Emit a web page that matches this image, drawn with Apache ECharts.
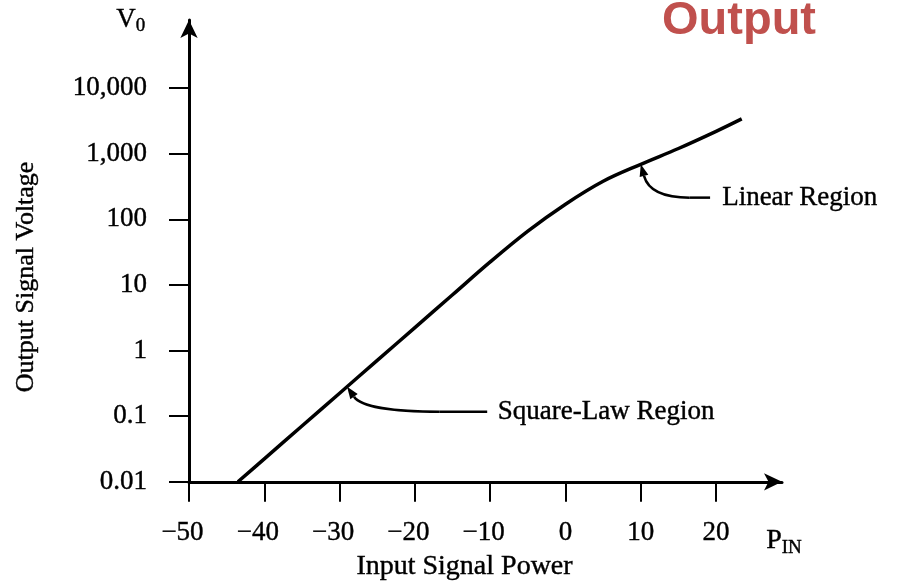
<!DOCTYPE html>
<html><head><meta charset="utf-8">
<script src="https://cdn.jsdelivr.net/npm/echarts@6/dist/echarts.min.js"></script>
<style>html,body{margin:0;padding:0;background:#fff}#c{width:899px;height:586px}</style>
</head><body><div id="c"></div>
<script>
// ---- data ----
const inputPower    = [-43.5, -40, -35, -30, -25, -20, -15, -10, -5, 0, 5, 10, 15, 20, 23.4];
const outputVoltage = [0.01, 0.0224, 0.0708, 0.224, 0.708, 2.24, 7.08, 22.4, 66, 170, 380, 690, 1200, 2190, 3390];
const xTicks = [-50, -40, -30, -20, -10, 0, 10, 20];
const yTicks = [0.01, 0.1, 1, 10, 100, 1000, 10000];
const yTickLabels = ['0.01', '0.1', '1', '10', '100', '1,000', '10,000'];
const annotationTexts   = ['Square-Law Region', 'Linear Region'];
const annotationAnchorX = [-29, 10];
const annotationAnchorY = [0.28, 690];
const annotationElbowX  = [-16.7, 16.5];
const annotationLineEndX = [-10.4, 19.2];
const annotationTextX   = [-9, 20.8];
const annotationY       = [0.117, 214];

const serif = "'Liberation Serif', 'Times New Roman', serif";
const FS = 27;
const ink = {textBorderColor: '#000', textBorderWidth: 0.4};
const gInk = {stroke: '#000', lineWidth: 0.4};

const curve = inputPower.map((x, i) => [x, outputVoltage[i]]);
const annData = annotationTexts.map((t, i) => [annotationAnchorX[i], annotationAnchorY[i], annotationElbowX[i], annotationLineEndX[i], annotationTextX[i], annotationY[i]]);

function yLabel(v) {
  for (let i = 0; i < yTicks.length; i++) {
    if (Math.abs(Math.log10(v) - Math.log10(yTicks[i])) < 1e-6) return yTickLabels[i];
  }
  return '';
}

const chart = echarts.init(document.getElementById('c'), null, {renderer: 'canvas'});
chart.setOption({
  animation: false,
  backgroundColor: '#fff',
  title: {
    text: 'Output', left: 657, top: -7,
    textStyle: {color: '#C0504D', fontSize: 47, fontWeight: 'bold', fontFamily: "'Liberation Sans', Arial, sans-serif"}
  },
  grid: {left: 189, right: 117, top: 20, bottom: 98, containLabel: false},
  xAxis: {
    type: 'value', min: -50, max: 28.75,
    name: 'Input Signal Power', nameLocation: 'middle', nameGap: 71,
    nameTextStyle: Object.assign({fontFamily: serif, fontSize: 28, color: '#000', padding: [0, 42, 0, 0]}, ink),
    splitLine: {show: false},
    axisLine: {show: true, onZero: false, symbol: ['none', 'arrow'], symbolSize: [13, 18], lineStyle: {color: '#000', width: 3}},
    axisTick: {show: true, length: 20, customValues: xTicks, lineStyle: {color: '#000', width: 2}},
    axisLabel: {
      customValues: xTicks, margin: 38, color: '#000', fontFamily: serif, fontSize: FS,
      formatter: v => v < 0 ? '{n|\u2212' + Math.abs(v) + '}' : '{p|' + v + '}',
      rich: {
        n: Object.assign({fontFamily: serif, fontSize: FS, color: '#000', padding: [0, 13, 0, 0]}, ink),
        p: Object.assign({fontFamily: serif, fontSize: FS, color: '#000'}, ink)
      }
    }
  },
  yAxis: {
    type: 'log', logBase: 10, min: 0.01, max: 109000,
    name: 'Output Signal Voltage', nameLocation: 'middle', nameGap: 150, nameRotate: 90,
    nameTextStyle: Object.assign({fontFamily: serif, fontSize: 26, color: '#000', padding: [0, 52, 0, 0]}, ink),
    splitLine: {show: false},
    minorTick: {show: false},
    axisLine: {show: true, onZero: false, symbol: ['none', 'arrow'], symbolSize: [13, 18], lineStyle: {color: '#000', width: 3}},
    axisTick: {show: true, length: 20, customValues: yTicks, lineStyle: {color: '#000', width: 2}},
    axisLabel: Object.assign({customValues: yTicks, margin: 42, color: '#000', fontFamily: serif, fontSize: FS, formatter: yLabel}, ink)
  },
  graphic: [
    {type: 'text', left: 116, top: 6, style: {
      text: '{v|V}{s|0}', rich: {
        v: Object.assign({fontFamily: serif, fontSize: 27, fill: '#000'}, gInk),
        s: Object.assign({fontFamily: serif, fontSize: 19, fill: '#000', padding: [13, 0, 0, 0]}, gInk)
      }}},
    {type: 'text', left: 766, top: 526, style: {
      text: '{p|P}{s|IN}', rich: {
        p: Object.assign({fontFamily: serif, fontSize: 28, fill: '#000'}, gInk),
        s: Object.assign({fontFamily: serif, fontSize: 19, fill: '#000', padding: [15, 0, 0, 0]}, gInk)
      }}}
  ],
  series: [
    {
      type: 'line', data: curve, showSymbol: false, symbol: 'none', smooth: 0.35,
      lineStyle: {color: '#000', width: 3.5}, z: 3
    },
    {
      type: 'custom', coordinateSystem: 'cartesian2d', data: annData, clip: false, z: 4,
      encode: {x: [0, 2, 3, 4], y: [1, 5]},
      renderItem: function (params, api) {
        const i = params.dataIndex;
        const A = api.coord([api.value(0), api.value(1)]);
        const E = api.coord([api.value(2), api.value(5)]);
        const L = api.coord([api.value(3), api.value(5)]);
        const T = api.coord([api.value(4), api.value(5)]);
        const dx = E[0] - A[0], dy = E[1] - A[1];
        const c1 = [A[0] + 0.15 * dx, A[1] + 0.8 * dy];
        const c2 = [A[0] + 0.5 * dx, E[1]];
        let ux = A[0] - c1[0], uy = A[1] - c1[1];
        const len = Math.hypot(ux, uy); ux /= len; uy /= len;
        const hl = 12, hw = 4.5;
        const base = [A[0] - ux * hl, A[1] - uy * hl];
        const p1 = [base[0] - uy * hw, base[1] + ux * hw];
        const p2 = [base[0] + uy * hw, base[1] - ux * hw];
        return {type: 'group', children: [
          {type: 'bezierCurve', shape: {x1: base[0], y1: base[1], cpx1: c1[0], cpy1: c1[1], cpx2: c2[0], cpy2: c2[1], x2: E[0], y2: E[1]},
            style: {stroke: '#000', lineWidth: 2.5, fill: null}},
          {type: 'line', shape: {x1: E[0], y1: E[1], x2: L[0], y2: L[1]}, style: {stroke: '#000', lineWidth: 2.5}},
          {type: 'polygon', shape: {points: [A, p1, p2]}, style: {fill: '#000'}},
          {type: 'text', style: {text: annotationTexts[i], x: T[0], y: T[1], align: 'left', verticalAlign: 'middle',
            font: FS + 'px ' + serif, fill: '#000', stroke: '#000', lineWidth: 0.4}}
        ]};
      }
    }
  ]
});
</script></body></html>
